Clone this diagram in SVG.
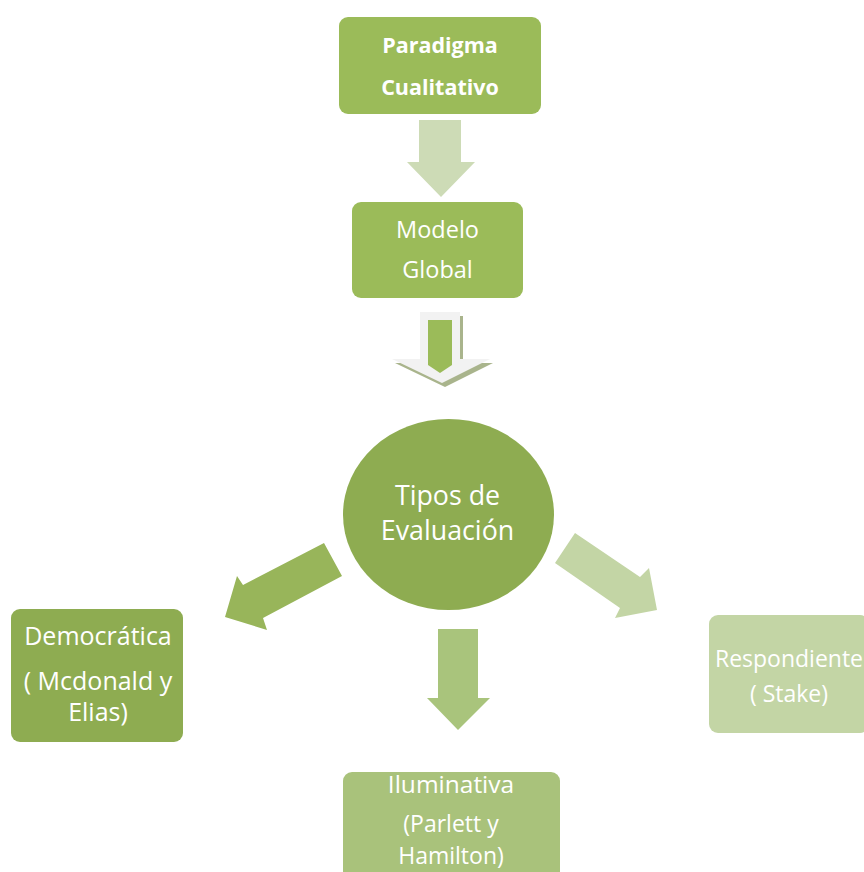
<svg xmlns="http://www.w3.org/2000/svg" width="864" height="872" viewBox="0 0 864 872">
<style>
text{font-family:"Open Sans","Noto Sans","Liberation Sans",sans-serif;fill:#ffffff;text-anchor:middle}
.b{font-weight:bold}
</style>
<rect width="864" height="872" fill="#ffffff"/>
<g id="connectors">
<polygon id="a1" points="419,120 461,120 461,162 475,162 441,197 407,162 419,162" fill="#cddbb6"/>
<g id="a2">
<polygon points="423,316 463,316 463,363 493,363 445,387 395,363 423,363" fill="#a9b48c"/>
<polygon points="420,312 460,312 460,359 490,359 442,383 392,359 420,359" fill="#f2f2f2"/>
<polygon points="428,320 452,320 452,365 440,373 428,365" fill="#9bbb59"/>
</g>
<polygon id="a3" points="324,543 342,576 263,618 267,630 225,617 237,576 243,585" fill="#98b55a"/>
<polygon id="a4" points="438,629 478,629 478,698 490,698 458,730 427,698 438,698" fill="#a9c47c"/>
<polygon id="a5" points="575,533 555,563 620,608 615,618 657,610 649,568 640,577" fill="#c3d5a5"/>
</g>
<g id="paradigma">
<rect x="339" y="17" width="202" height="97" rx="9" fill="#9bbb59"/>
<text class="b" x="440" y="53" font-size="21.5">Paradigma</text>
<text class="b" x="440" y="95" font-size="21.5">Cualitativo</text>
</g>
<g id="modelo">
<rect x="352" y="202" width="171" height="96" rx="9" fill="#9bbb59"/>
<text x="437.5" y="238" font-size="23.5">Modelo</text>
<text x="437.5" y="278" font-size="23.5">Global</text>
</g>
<g id="tipos">
<ellipse cx="448.5" cy="514.5" rx="105.5" ry="95.5" fill="#8eac51"/>
<text x="447.5" y="505" font-size="26.8">Tipos de</text>
<text x="447.5" y="540" font-size="26.8">Evaluación</text>
</g>
<g id="democratica">
<rect x="11" y="609" width="172" height="133" rx="9" fill="#8eac51"/>
<text x="98" y="645" font-size="25">Democrática</text>
<text x="98" y="690" font-size="25">( Mcdonald y</text>
<text x="98" y="721" font-size="25">Elias)</text>
</g>
<g id="iluminativa">
<rect x="343" y="772" width="217" height="110" rx="9" fill="#a9c27b"/>
<text x="451" y="793" font-size="24.5">Iluminativa</text>
<text x="451" y="832" font-size="23">(Parlett y</text>
<text x="451" y="864" font-size="23">Hamilton)</text>
</g>
<g id="respondiente">
<rect x="709" y="615" width="160" height="118" rx="9" fill="#c3d5a5"/>
<text x="789" y="667" font-size="23">Respondiente</text>
<text x="789" y="702" font-size="23">( Stake)</text>
</g>
</svg>
